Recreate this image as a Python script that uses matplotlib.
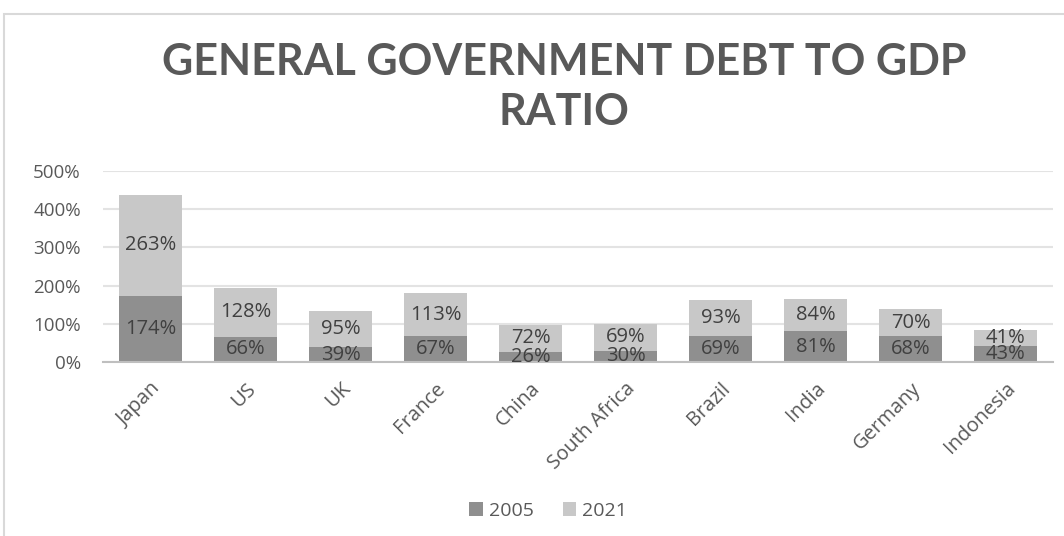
import matplotlib
matplotlib.use("Agg")
import matplotlib.pyplot as plt
from matplotlib.patches import Rectangle

countries = ["Japan", "US", "UK", "France", "China", "South Africa", "Brazil", "India", "Germany", "Indonesia"]
debt_2005 = [174, 66, 39, 67, 26, 30, 69, 81, 68, 43]
debt_2021 = [263, 128, 95, 113, 72, 69, 93, 84, 70, 41]
series_names = ["2005", "2021"]
yticks = [0, 100, 200, 300, 400, 500]

W, H = 1064, 536
fig = plt.figure(figsize=(W / 100, H / 100), dpi=100)
plt.rcParams['font.family'] = ['Open Sans', 'DejaVu Sans']

# outer chart border
fig.patches.append(Rectangle((4 / W, -0.1), 1.2, (H - 14) / H + 0.1, transform=fig.transFigure,
                             fill=False, edgecolor="#d9d9d9", linewidth=1.5))

ax = fig.add_axes([103 / W, 1 - 362 / H, 950 / W, (362 - 171) / H])
c05, c21 = "#8f8f8f", "#c8c8c8"
txt = "#404040"
x = list(range(len(countries)))
b1 = ax.bar(x, debt_2005, width=0.66, color=c05, label=series_names[0], zorder=2)
b2 = ax.bar(x, debt_2021, width=0.66, bottom=debt_2005, color=c21, label=series_names[1], zorder=2)
for i in x:
    ax.text(i, debt_2005[i] / 2, f"{debt_2005[i]}%", ha="center", va="center", fontsize=14.5, color=txt, zorder=3)
    ax.text(i, debt_2005[i] + debt_2021[i] / 2, f"{debt_2021[i]}%", ha="center", va="center", fontsize=14.5, color=txt, zorder=3)

ax.set_xlim(-0.5, len(countries) - 0.5)
ax.set_ylim(0, 500)
ax.set_yticks(yticks)
ax.set_yticklabels([f"{v}%" for v in yticks])
ax.yaxis.grid(True, color="#e3e3e3", linewidth=1.5, zorder=0)
for s in ["top", "right", "left"]:
    ax.spines[s].set_visible(False)
ax.spines["bottom"].set_color("#bfbfbf")
ax.spines["bottom"].set_linewidth(1.5)
ax.tick_params(axis="both", length=0, labelsize=13.5, labelcolor="#595959")
ax.tick_params(axis="y", pad=16)
ax.set_xticks(x)
ax.set_xticklabels(countries, rotation=45, ha="right", rotation_mode="anchor")
ax.tick_params(axis="x", pad=12, labelsize=14.5)

fig.text(564 / W, 1 - 62 / H, "GENERAL GOVERNMENT DEBT TO GDP", ha="center", va="center",
         fontsize=31, fontweight="bold", color="#595959", family="Lato")
fig.text(564 / W, 1 - 112 / H, "RATIO", ha="center", va="center",
         fontsize=31, fontweight="bold", color="#595959", family="Lato")

fig.legend(handles=[b1, b2], labels=series_names, loc="center", bbox_to_anchor=(548 / W, 1 - 511 / H),
           ncol=2, frameon=False, fontsize=14, labelcolor="#595959", handlelength=0.7, handleheight=0.7,
           handletextpad=0.3, columnspacing=1.5)

fig.savefig("out.png", dpi=100)
